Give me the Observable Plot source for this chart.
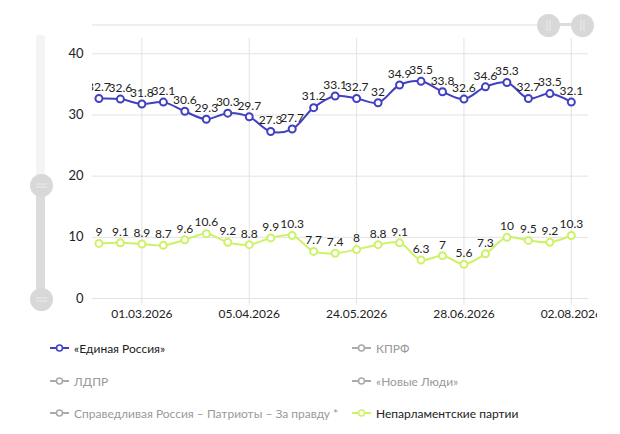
<!DOCTYPE html>
<html>
<head>
<meta charset="utf-8">
<script src="https://cdn.jsdelivr.net/npm/d3@7"></script>
<script src="https://cdn.jsdelivr.net/npm/@observablehq/plot@0.6"></script>
<style>
  html, body { margin: 0; padding: 0; background: #fff; }
  #wrap { position: relative; width: 620px; height: 434px; overflow: hidden; font-family: Lato, "Noto Sans", sans-serif; }
  #chart { position: absolute; left: 0; top: 0; }
  .sb { position: absolute; }
  .grip { position: absolute; width: 23px; height: 23px; border-radius: 50%; background: #d8d8d8; }
  .legend { position: absolute; display: flex; align-items: center; font-size: 12px; white-space: nowrap; }
  .legend svg { margin-right: 5px; }
</style>
</head>
<body>
<div id="wrap">
  <div id="chart"></div>
</div>
<script>
const dates = ["15.02.2026","22.02.2026","01.03.2026","08.03.2026","15.03.2026","22.03.2026","29.03.2026","05.04.2026","12.04.2026","19.04.2026","26.04.2026","10.05.2026","24.05.2026","31.05.2026","07.06.2026","14.06.2026","21.06.2026","28.06.2026","05.07.2026","12.07.2026","19.07.2026","26.07.2026","02.08.2026"];
const unitedRussia = [32.7,32.6,31.8,32.1,30.6,29.3,30.3,29.7,27.3,27.7,31.2,33.1,32.7,32,34.9,35.5,33.8,32.6,34.6,35.3,32.7,33.5,32.1];
const nonParliamentary = [9,9.1,8.9,8.7,9.6,10.6,9.2,8.8,9.9,10.3,7.7,7.4,8,8.8,9.1,6.3,7,5.6,7.3,10,9.5,9.2,10.3];
const tickDates = ["01.03.2026","05.04.2026","24.05.2026","28.06.2026","02.08.2026"];
const yTicks = [0,10,20,30,40];
const legendItems = [
  {name: "«Единая Россия»", color: "#4040c0", active: true},
  {name: "КПРФ", color: "#aaaaaa", active: false},
  {name: "ЛДПР", color: "#aaaaaa", active: false},
  {name: "«Новые Люди»", color: "#aaaaaa", active: false},
  {name: "Справедливая Россия – Патриоты – За правду *", color: "#aaaaaa", active: false},
  {name: "Непарламентские партии", color: "#cdf268", active: true}
];

const C_ER = "#4040c0";
const C_NP = "#cdf268";
const GRID = "#e2e2e2";

const data = dates.map((d, i) => ({i, d, er: unitedRussia[i], np: nonParliamentary[i]}));
const tickIdx = tickDates.map(t => dates.indexOf(t));

const chart = Plot.plot({
  width: 597,
  height: 330,
  marginLeft: 92,
  marginRight: 9,
  marginTop: 38,
  marginBottom: 32,
  style: {fontFamily: "Lato, 'Noto Sans', sans-serif", fontSize: "12px", color: "#222", background: "transparent", overflow: "hidden"},
  x: {domain: [-0.3, 22.8], label: null},
  y: {domain: [0, 42.5], label: null},
  marks: [
    Plot.ruleY(yTicks, {stroke: GRID, strokeWidth: 1}),
    Plot.ruleX(tickIdx, {y1: -1.15, y2: 42.5, stroke: GRID, strokeWidth: 1}),
    Plot.axisY({ticks: yTicks, tickSize: 0, tickPadding: 9, fontSize: 13, fill: "#222", label: null}),
    Plot.axisX({ticks: tickIdx, tickFormat: i => dates[i], tickSize: 0, tickPadding: 11, fontSize: 12, fill: "#222", label: null}),
    Plot.line(data, {x: "i", y: "np", stroke: C_NP, strokeWidth: 2, curve: "catmull-rom"}),
    Plot.dot(data, {x: "i", y: "np", r: 3.5, fill: "white", stroke: C_NP, strokeWidth: 2}),
    Plot.text(data, {x: "i", y: "np", text: d => String(d.np), dy: -11, fontSize: 12, fill: "#222", clip: true}),
    Plot.line(data, {x: "i", y: "er", stroke: C_ER, strokeWidth: 2, curve: "catmull-rom"}),
    Plot.dot(data, {x: "i", y: "er", r: 3.5, fill: "white", stroke: C_ER, strokeWidth: 2}),
    Plot.text(data, {x: "i", y: "er", text: d => String(d.er), dy: -11, fontSize: 12, fill: "#222", clip: true})
  ]
});
const wrap = document.getElementById("wrap");
document.getElementById("chart").appendChild(chart);

// scrollbars (UI chrome)
function box(css) { const d = document.createElement("div"); d.className = "sb"; Object.assign(d.style, css); wrap.appendChild(d); return d; }
function grip(cx, cy, vertical) {
  const g = document.createElement("div");
  g.className = "grip";
  g.style.left = (cx - 11.5) + "px";
  g.style.top = (cy - 11.5) + "px";
  g.innerHTML = vertical
    ? '<svg width="23" height="23"><line x1="6" x2="17" y1="10" y2="10" stroke="#ececec" stroke-width="1"/><line x1="6" x2="17" y1="13" y2="13" stroke="#ececec" stroke-width="1"/></svg>'
    : '<svg width="23" height="23"><line y1="6" y2="17" x1="10" x2="10" stroke="#ececec" stroke-width="1"/><line y1="6" y2="17" x1="13" x2="13" stroke="#ececec" stroke-width="1"/></svg>';
  wrap.appendChild(g);
}
// vertical
box({left: "36px", top: "35px", width: "9px", height: "272px", background: "#f4f4f4", borderRadius: "3px"});
box({left: "36px", top: "185px", width: "9px", height: "114px", background: "#dcdcdc"});
grip(41, 185, true);
grip(41, 299, true);
// horizontal
box({left: "92px", top: "24px", width: "496px", height: "2px", background: "#efefef"});
box({left: "548px", top: "23px", width: "34px", height: "3px", background: "#dcdcdc"});
grip(548.5, 25, false);
grip(582, 25, false);

// legend
const legendPos = [[50, 348], [352, 348], [50, 381], [352, 381], [50, 413], [352, 413]];
legendItems.forEach((it, k) => {
  const [x, y] = legendPos[k];
  const el = document.createElement("div");
  el.className = "legend";
  el.style.left = x + "px";
  el.style.top = (y - 9) + "px";
  el.style.height = "18px";
  el.style.color = it.active ? "#222" : "#999";
  el.innerHTML = `<svg width="19" height="10"><line x1="0" x2="19" y1="5" y2="5" stroke="${it.color}" stroke-width="2"/><circle cx="9.5" cy="5" r="3" fill="white" stroke="${it.color}" stroke-width="1.6"/></svg><span>${it.name}</span>`;
  wrap.appendChild(el);
});
</script>
</body>
</html>
